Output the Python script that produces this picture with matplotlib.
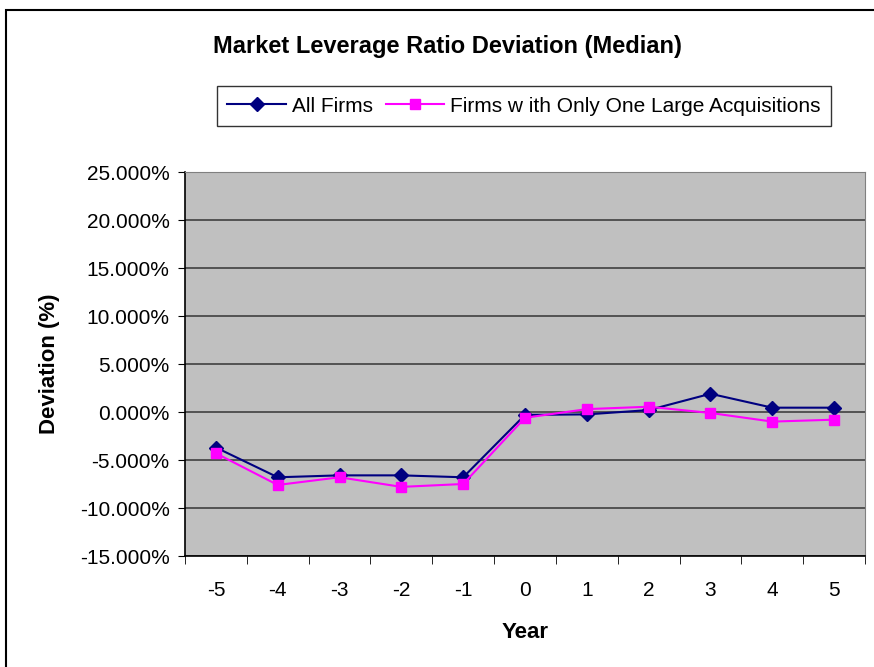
import numpy as np
import matplotlib.pyplot as plt
from matplotlib.patches import Rectangle

plt.rcParams['font.family'] = ['Liberation Sans', 'DejaVu Sans']

# data (in %)
years = [-5, -4, -3, -2, -1, 0, 1, 2, 3, 4, 5]
all_firms = [-3.7, -6.8, -6.6, -6.6, -6.8, -0.3, -0.25, 0.2, 1.9, 0.45, 0.45]
one_large = [-4.3, -7.6, -6.8, -7.8, -7.5, -0.6, 0.3, 0.55, -0.1, -1.0, -0.8]
yticks = [-15, -10, -5, 0, 5, 10, 15, 20, 25]

fig = plt.figure(figsize=(8.74, 6.67), dpi=100)
ax = fig.add_axes([185/874, 1 - 556/667, 680/874, 384/667])

# outer chart border
fig.patches.append(Rectangle((6/874, -0.05), 1.0, 1 - 10/667 + 0.05, transform=fig.transFigure,
                             fill=False, edgecolor='black', linewidth=1.5))

x = np.arange(len(years))
ax.set_facecolor('#C0C0C0')
for yv in yticks:
    ax.axhline(yv, color='#404040', linewidth=1.2, zorder=1)

ax.plot(x, all_firms, color='#000080', marker='D', markersize=7, linewidth=1.5,
        label='All Firms', zorder=3)
ax.plot(x, one_large, color='#FF00FF', marker='s', markersize=7, linewidth=1.5,
        label='Firms w ith Only One Large Acquisitions', zorder=4)

ax.set_xlim(-0.5, len(years) - 0.5)
ax.set_ylim(-15, 25)
ax.set_yticks(yticks)
ax.set_yticklabels(['%.3f%%' % v for v in yticks], fontsize=15)
ax.set_xticks(x)
ax.set_xticklabels([str(v) for v in years], fontsize=15)
ax.set_xticks(np.arange(len(years) + 1) - 0.5, minor=True)
ax.tick_params(axis='x', which='major', length=0, pad=18)
ax.tick_params(axis='x', which='minor', length=6, direction='out', color='black')
ax.tick_params(axis='y', length=5, direction='out', pad=6)

for s in ['top', 'right']:
    ax.spines[s].set_color('#808080')
for s in ['left', 'bottom']:
    ax.spines[s].set_color('black')
    ax.spines[s].set_linewidth(1.2)

ax.set_xlabel('Year', fontsize=16, fontweight='bold', labelpad=16)
ax.set_ylabel('Deviation (%)', fontsize=16, fontweight='bold', labelpad=14)

fig.text(447/874, 1 - 47/667, 'Market Leverage Ratio Deviation (Median)', fontsize=17,
         fontweight='bold', ha='center', va='center')

leg = fig.legend(loc='center', bbox_to_anchor=(524/874, 1 - 106/667), ncol=2, fontsize=15,
                 frameon=True, fancybox=False, edgecolor='black', handlelength=2.8,
                 columnspacing=0.6, handletextpad=0.3, borderpad=0.5)
leg.get_frame().set_linewidth(1.0)

plt.savefig('out.png', dpi=100)
